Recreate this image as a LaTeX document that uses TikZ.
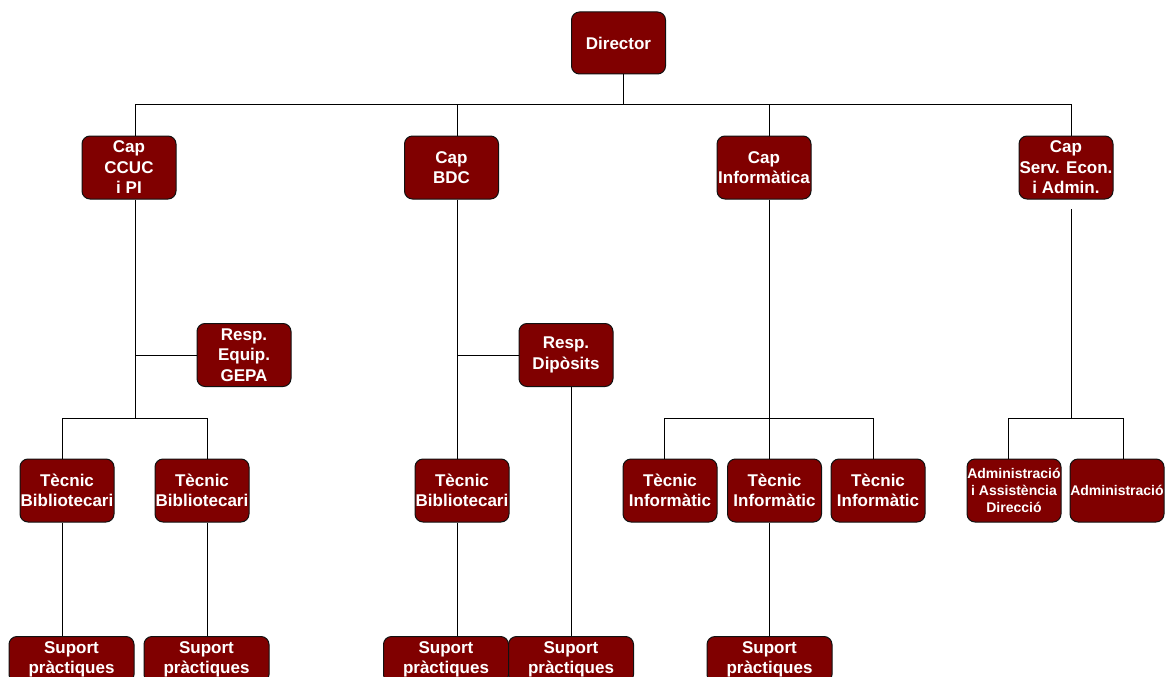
\documentclass[tikz,border=0pt]{standalone}
\usepackage{fontspec}
\setmainfont{Liberation Sans}
\usetikzlibrary{positioning, calc}
\definecolor{boxfill}{HTML}{800000}
\definecolor{edgecol}{HTML}{111111}
\tikzset{
    every node/.style={font=\bfseries\fontsize{17}{20.5}\selectfont},
    unit/.style={
        rectangle, rounded corners=8pt, draw=edgecol, line width=1pt,
        fill=boxfill, text=white, minimum width=94pt, minimum height=63pt,
        inner sep=0pt, align=center,
    },
    smallunit/.style={
        unit, font=\bfseries\fontsize{14}{16.8}\selectfont,
    },
    support/.style={
        unit, minimum width=125pt, minimum height=46pt, anchor=north,
    },
    link/.style={black, line width=1pt},
}

\begin{document}
\begin{tikzpicture}[x=1pt, y=-1pt]
\clip (0,0) rectangle (1167,677);

% ── Nodes ──────────────────────────────────────────────────────────
\node[unit, minimum height=62pt] (dir) at (618.5,43) {Director};

\node[unit] (ccuc) at (129,167.5) {Cap\\CCUC\\i PI};
\node[unit] (bdc)  at (451.5,167.5) {Cap\\BDC};
\node[unit] (info) at (764,167.5) {Cap\\Informàtica};
\node[unit] (serv) at (1066,167.5) {Cap\\Serv. Econ.\\i Admin.};

\node[unit] (gepa) at (244,355) {Resp.\\Equip.\\GEPA};
\node[unit] (dipo) at (566,355) {Resp.\\Dipòsits};

\node[unit] (tb1) at (67,490.5) {Tècnic\\Bibliotecari};
\node[unit] (tb2) at (202,490.5) {Tècnic\\Bibliotecari};
\node[unit] (tb3) at (462,490.5) {Tècnic\\Bibliotecari};
\node[unit] (ti1) at (670,490.5) {Tècnic\\Informàtic};
\node[unit] (ti2) at (774.5,490.5) {Tècnic\\Informàtic};
\node[unit] (ti3) at (878,490.5) {Tècnic\\Informàtic};
\node[smallunit] (adm1) at (1014,490.5) {Administració\\i Assistència\\Direcció};
\node[smallunit] (adm2) at (1117,490.5) {Administració};

\node[support] (sp1) at (71.5,636) {Suport\\pràctiques};
\node[support] (sp2) at (206.5,636) {Suport\\pràctiques};
\node[support] (sp3) at (446,636) {Suport\\pràctiques};
\node[support] (sp4) at (571,636) {Suport\\pràctiques};
\node[support] (sp5) at (769.5,636) {Suport\\pràctiques};

% ── Bus points ─────────────────────────────────────────────────────
\coordinate (c0) at (623,104);
\coordinate (c1) at (135,104);
\coordinate (c2) at (457,104);
\coordinate (c3) at (769,104);
\coordinate (c4) at (1071,104);
\coordinate (s4) at (1071,209);
\coordinate (k1) at (135,418);
\coordinate (k1a) at (62,418);
\coordinate (k1b) at (207,418);
\coordinate (k3a) at (664,418);
\coordinate (k3b) at (873,418);
\coordinate (k4) at (1071,418);
\coordinate (k4a) at (1008,418);
\coordinate (k4b) at (1123,418);

% ── Director → Caps ────────────────────────────────────────────────
\draw[link] (dir.south -| c0) -- (c0);
\draw[link] (c1 |- ccuc.north) -- (c1) -- (c4) -- (c4 |- serv.north);
\draw[link] (c2) -- (c2 |- bdc.north);
\draw[link] (c3) -- (c3 |- info.north);

% ── CCUC branch ────────────────────────────────────────────────────
\draw[link] (c1 |- ccuc.south) -- (k1);
\draw[link] (c1 |- gepa.west) -- (gepa.west);
\draw[link] (k1a |- tb1.north) -- (k1a) -- (k1b) -- (k1b |- tb2.north);
\draw[link] (k1a |- tb1.south) -- (k1a |- sp1.north);
\draw[link] (k1b |- tb2.south) -- (k1b |- sp2.north);

% ── BDC branch ─────────────────────────────────────────────────────
\draw[link] (c2 |- bdc.south) -- (c2 |- tb3.north);
\draw[link] (c2 |- dipo.west) -- (dipo.west);
\draw[link] (c2 |- tb3.south) -- (c2 |- sp3.north);
\draw[link] (sp4.north |- dipo.south) -- (sp4.north);

% ── Informàtica branch ─────────────────────────────────────────────
\draw[link] (c3 |- info.south) -- (c3 |- ti2.north);
\draw[link] (k3a |- ti1.north) -- (k3a) -- (k3b) -- (k3b |- ti3.north);
\draw[link] (c3 |- ti2.south) -- (c3 |- sp5.north);

% ── Serv. Econ. branch ─────────────────────────────────────────────
\draw[link] (s4) -- (k4);
\draw[link] (k4a |- adm1.north) -- (k4a) -- (k4b) -- (k4b |- adm2.north);

\end{tikzpicture}
\end{document}
